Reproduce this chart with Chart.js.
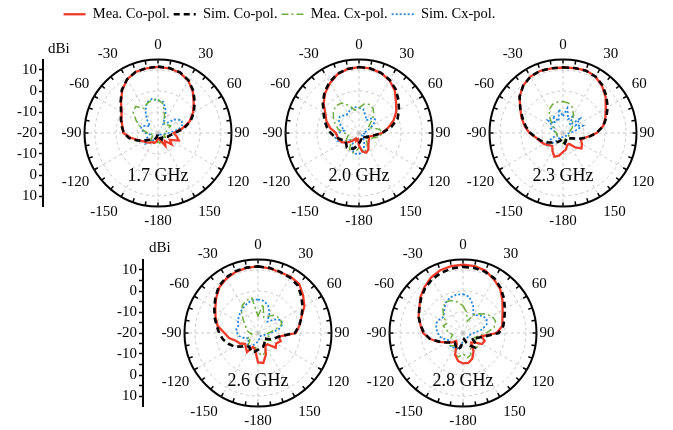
<!DOCTYPE html>
<html>
<head>
<meta charset="utf-8">
<script src="https://cdn.jsdelivr.net/npm/chart.js@4.4.1/dist/chart.umd.min.js"></script>
<style>
  body { margin: 0; background: #fff; }
  #page { position: relative; width: 673px; height: 430px; overflow: hidden; font-family: 'Liberation Serif', serif; color: #000; }
  #top { position: absolute; left: 0; top: 0; width: 673px; height: 225px; overflow: hidden; }
  canvas { position: absolute; }
  .txt { position: absolute; white-space: nowrap; }
  .freq { font-size: 18px; line-height: 20px; width: 120px; text-align: center; }
  .unit { font-size: 15px; line-height: 18px; }
</style>
</head>
<body>
<div id="page">
  <div id="top">
    <canvas id="ax1" width="50" height="190" style="left:0;top:38px"></canvas>
    <canvas id="p17" width="260" height="194" style="left:28px;top:36px"></canvas>
    <canvas id="p20" width="260" height="194" style="left:229px;top:36px"></canvas>
    <canvas id="p23" width="260" height="194" style="left:433px;top:36px"></canvas>
    <div class="txt unit" style="left:48px;top:39px">dBi</div>
    <div class="txt freq" style="left:98px;top:165px">1.7 GHz</div>
    <div class="txt freq" style="left:299px;top:165px">2.0 GHz</div>
    <div class="txt freq" style="left:503px;top:165px">2.3 GHz</div>
  </div>
  <canvas id="leg" width="559" height="36" style="left:0;top:3px"></canvas>
  <canvas id="ax2" width="50" height="190" style="left:100px;top:238px"></canvas>
  <canvas id="p26" width="260" height="194" style="left:128px;top:236px"></canvas>
  <canvas id="p28" width="260" height="194" style="left:333px;top:236px"></canvas>
  <div class="txt unit" style="left:149px;top:238px">dBi</div>
  <div class="txt freq" style="left:198px;top:370px">2.6 GHz</div>
  <div class="txt freq" style="left:403px;top:370px">2.8 GHz</div>
</div>
<script>
// angles in degrees, 0 at top, clockwise
const angles = [0, 10, 20, 30, 40, 50, 60, 70, 80, 90, 100, 110, 120, 130, 140, 150, 160, 170,
  180, 190, 200, 210, 220, 230, 240, 250, 260, 270, 280, 290, 300, 310, 320, 330, 340, 350];

// gain in dBi, one value per angle
const f17MeaCo = [11.5, 11.3, 10.6, 8.8, 5.8, 2.2, -0.8, -4, -8.5, -12.5, -11, -9.5, -13.5, -11.5, -15, -13, -16, -17,
  -17.5, -16, -15, -15, -14, -13, -12, -10, -6.8, -3.5, -2.8, -1.5, 0, 3, 6.5, 9.5, 11, 11.3];
const f17SimCo = [11.6, 11.4, 10.7, 9, 6.2, 2.8, -0.3, -3.5, -7.5, -12, -14, -15, -16.5, -17, -17, -16.5, -17.5, -19,
  -19.5, -19, -17.5, -16.5, -16, -15, -13, -9.5, -6, -3.8, -2.5, -1.2, 0.3, 3.2, 6.8, 9.5, 11, 11.4];
const f17MeaCx = [-4, -6, -11, -14, -15, -14, -13, -15, -16, -17, -16.5, -17, -16, -17, -16, -17, -16, -15,
  -16, -14.5, -15, -14, -15, -16, -17, -16, -17, -15, -13, -11, -8, -4.5, -3.5, -6.5, -5, -4];
const f17SimCx = [-4.5, -5, -9, -15, -14, -10, -7.5, -7.3, -10, -15, -17, -18, -18.5, -19, -19, -18.5, -19, -19,
  -18.5, -18, -17.5, -16.5, -14, -12, -12.5, -15, -16, -14, -12, -11.5, -13, -15, -12, -8, -4.5, -3.5];

const f20MeaCo = [11.4, 11.2, 10.5, 9, 6.5, 3, 0.5, -2.5, -6, -9, -13, -15, -14.5, -14, -13, -11, -10, -11,
  -14, -17, -16, -17, -15, -13, -11, -10, -9.5, -9, -6, -3.5, -1.5, 2, 5, 7.5, 9.8, 11];
const f20SimCo = [11.4, 11.2, 10.5, 9.2, 7.2, 4.5, 2, -0.5, -4.5, -9, -13, -15, -16, -17, -18, -18, -17, -16,
  -15, -13.5, -12, -11.5, -11, -12, -12.5, -11, -8.5, -6.5, -4.5, -2.5, -0.5, 2.5, 5.5, 8, 10, 11];
const f20MeaCx = [-8, -6, -5.5, -6.5, -9, -13, -15, -13, -10, -9, -10, -13, -15, -16, -14, -12, -11, -12,
  -13, -11, -10, -11, -14, -15, -13, -14, -15, -13, -10, -8, -6, -4, -3, -3.5, -6, -9];
const f20SimCx = [-8, -8.5, -11, -13, -11, -10, -12, -15, -17, -18, -17, -16, -17, -18, -17, -15, -13, -11,
  -10, -10, -11, -14, -16, -15, -12, -9, -8.5, -10, -13, -11, -9, -8, -9, -9.5, -8, -7.5];

const f23MeaCo = [11.2, 11.4, 11.8, 11, 9, 6.5, 3.5, 1.5, -0.5, -4, -8.5, -11, -9.5, -8.5, -11, -14, -14, -12,
  -11, -9, -8, -10, -12, -11, -9.5, -8.5, -7, -4, -1.5, 1, 3.5, 7, 9.5, 11, 11.5, 11.3];
const f23SimCo = [11.3, 11.4, 11.6, 11, 9.5, 7, 4.5, 2, -0.5, -4, -8, -12, -15, -16, -17, -17, -16, -15,
  -16, -17, -16, -15, -14, -13, -11, -9, -7, -4.5, -2, 0.5, 3.5, 7, 9.5, 11, 11.5, 11.3];
const f23MeaCx = [-5, -5.5, -7, -10, -13, -14, -15, -16, -17, -17, -17, -17, -17, -17, -17, -17, -17, -16,
  -15, -16, -17, -17, -17, -17, -17, -17, -17, -17, -16, -16, -15, -13, -10, -7, -5.5, -5];
const f23SimCx = [-12, -8, -13, -11, -15, -9.5, -13, -10, -14, -17, -18, -18, -18, -18, -18, -18, -18, -18,
  -18, -18, -18, -18, -15, -10, -11, -16, -17, -17, -16, -14, -15, -11, -14, -10.5, -14, -8.5];

const f26MeaCo = [11.7, 11.3, 10.8, 11, 10.5, 8, 5.5, 2, 0, -2, -10, -8.5, -10, -9, -13, -13, -9, -5.5,
  -6, -12, -13, -9.5, -11, -12, -10, -9, -6, -4, -0.5, 1.5, 3.5, 6, 8.5, 10, 11, 11.5];
const f26SimCo = [11.7, 11.5, 11, 10.5, 9.5, 7, 4.5, 2, 0, -2.5, -10, -12, -14, -16, -15, -14, -13, -13,
  -12, -11, -10.5, -12, -12, -10, -7, -5, -3, -1.5, 0, 2, 4, 6.5, 9, 10.5, 11.3, 11.6];
const f26MeaCx = [-12, -6, -12, -11, -9, -8, -7.5, -8, -12, -15, -16, -14, -13, -15, -15, -13, -10, -9,
  -11, -13, -12, -11, -13, -15, -14, -16, -17, -16, -15, -14, -13, -11, -8, -5, -3.5, -3];
const f26SimCx = [-4, -4.5, -6, -9, -13, -10, -7.5, -7.5, -10, -14, -16, -17, -17.5, -18, -18, -17.5, -17, -17,
  -16, -15, -14, -13, -12, -14, -15, -13, -11, -10, -9.5, -10, -9, -8, -7, -6, -5, -4];

const f28MeaCo = [12.5, 12.3, 11.5, 9.5, 7.5, 4.5, 1.8, 0, -1, -4, -11, -9, -9.5, -13, -14, -10, -7, -5.5,
  -5.5, -6.5, -9, -14, -15, -13, -11, -7.5, -4, -1, 0.5, 2.5, 4, 6.5, 8.5, 10.5, 11.8, 12.3];
const f28SimCo = [11.5, 11.4, 11, 10, 8, 5.5, 3, 1, -0.5, -3, -10, -13, -15, -12, -11, -13, -15, -17,
  -16, -13, -11.5, -13, -14, -13, -11, -8, -4, -1.5, 0.5, 2.5, 4, 6, 8, 9.5, 10.5, 11.2];
const f28MeaCx = [-7, -10, -14, -10, -8, -6, -4, -3.5, -5, -9, -12, -14, -12, -10, -11, -13, -9, -8,
  -10, -8.5, -9, -13, -12, -11, -13, -14, -15, -14, -12, -10, -11, -8, -5, -3, -3.5, -5];
const f28SimCx = [-1.5, -2.5, -6, -10, -9, -7.5, -7, -8, -11, -15, -16, -17, -17, -17, -17, -17, -17, -17,
  -16, -14, -12, -12, -11, -12, -13, -11, -9, -8, -7, -6.5, -7, -8, -6, -3.5, -2, -1.5];

Chart.defaults.font.family = "'Liberation Serif', 'Times New Roman', serif";
Chart.defaults.color = '#000';
Chart.defaults.animation = false;

const seriesStyle = [
  { label: 'Mea. Co-pol.', borderColor: '#f03a2a', borderWidth: 2.3, borderDash: [], order: 1 },
  { label: 'Sim. Co-pol.', borderColor: '#000000', borderWidth: 2.6, borderDash: [6, 4], order: 0 },
  { label: 'Mea. Cx-pol.', borderColor: '#6fad3f', borderWidth: 1.5, borderDash: [7, 3, 2, 3], order: 2 },
  { label: 'Sim. Cx-pol.', borderColor: '#2585dd', borderWidth: 1.8, borderDash: [2, 2], order: 3 }
];

function angleText(v) {
  if (v === 0) return '0';
  if (v >= 180) return String(v - 360);
  return String(v);
}

// small tick marks around the outer circle
const rimTicks = {
  id: 'rimTicks',
  afterDatasetsDraw(chart) {
    const s = chart.scales.r;
    const ctx = chart.ctx;
    ctx.save();
    ctx.strokeStyle = '#000';
    ctx.lineWidth = 1.5;
    for (let i = 0; i < angles.length; i++) {
      const a = s.getPointPosition(i, s.drawingArea);
      const b = s.getPointPosition(i, s.drawingArea - 4);
      ctx.beginPath();
      ctx.moveTo(a.x, a.y);
      ctx.lineTo(b.x, b.y);
      ctx.stroke();
    }
    ctx.restore();
  }
};

function makePolar(id, series) {
  new Chart(document.getElementById(id), {
    type: 'radar',
    data: {
      labels: angles,
      datasets: series.map((d, k) => ({
        label: seriesStyle[k].label,
        data: d,
        borderColor: seriesStyle[k].borderColor,
        borderWidth: seriesStyle[k].borderWidth,
        borderDash: seriesStyle[k].borderDash,
        order: seriesStyle[k].order,
        fill: false,
        pointRadius: 0,
        tension: 0
      }))
    },
    options: {
      responsive: false,
      layout: { padding: 0 },
      plugins: { legend: { display: false }, tooltip: { enabled: false } },
      scales: {
        r: {
          min: -20,
          max: 15,
          beginAtZero: false,
          ticks: { display: false, stepSize: 5 },
          grid: {
            circular: true,
            color: c => c.tick.value === 15 ? '#000' : (c.tick.value % 10 === 0 && c.tick.value > -20 ? '#bdbdbd' : 'rgba(0,0,0,0)'),
            lineWidth: c => c.tick.value === 15 ? 2 : 0.8
          },
          border: { dash: c => (c.tick && c.tick.value === 15) ? [] : [3, 3] },
          angleLines: {
            color: c => c.index % 3 === 0 ? '#bdbdbd' : 'rgba(0,0,0,0)',
            lineWidth: 0.8,
            borderDash: [3, 3]
          },
          pointLabels: {
            font: { size: 15 },
            color: '#000',
            padding: c => {
              const a = angles[c.index];
              if (a % 30 !== 0) return 0;
              if (a === 0 || a === 180) return 5.5;
              if (a === 90 || a === 270) return 3;
              if (a % 60 === 0) return 6;
              return 7;
            },
            callback: (v, i) => (i % 3 === 0 ? angleText(v) : '')
          }
        }
      }
    },
    plugins: [rimTicks]
  });
}

function dbAxis(id) {
  new Chart(document.getElementById(id), {
    type: 'scatter',
    data: { datasets: [] },
    options: {
      responsive: false,
      layout: { padding: { top: 21.5, bottom: 21.5, left: 0, right: 0 } },
      plugins: { legend: { display: false }, tooltip: { enabled: false } },
      scales: {
        x: { display: false },
        y: {
          min: -35,
          max: 35,
          afterFit: s => { s.width = 43; },
          border: { display: true, color: '#000', width: 2 },
          grid: {
            drawOnChartArea: false,
            drawTicks: true,
            tickLength: 4,
            tickWidth: 1.5,
            tickColor: c => Math.abs(c.tick.value) === 35 ? 'rgba(0,0,0,0)' : '#000'
          },
          ticks: {
            stepSize: 5,
            padding: 2,
            autoSkip: false,
            maxRotation: 0,
            font: { size: 15 },
            // distance along the diameter shown as gain, -20 dBi at the centre
            callback: v => (v % 10 === 0 ? String(Math.abs(v) - 20) : '')
          }
        }
      }
    }
  });
}

new Chart(document.getElementById('leg'), {
  type: 'line',
  data: {
    labels: [],
    datasets: seriesStyle.map(s => ({
      label: s.label,
      data: [],
      borderColor: s.borderColor,
      borderWidth: s.borderWidth,
      borderDash: s.borderDash
    }))
  },
  options: {
    responsive: false,
    layout: { padding: 0 },
    scales: { x: { display: false }, y: { display: false } },
    plugins: {
      tooltip: { enabled: false },
      legend: {
        labels: {
          usePointStyle: true,
          pointStyleWidth: 22,
          padding: 4,
          font: { size: 14.5 },
          // take the line look from the dataset, not from its (absent) points
          generateLabels: chart => chart.data.datasets.map((d, i) => ({
            text: d.label,
            fillStyle: 'rgba(0,0,0,0)',
            strokeStyle: d.borderColor,
            lineWidth: d.borderWidth,
            lineDash: d.borderDash,
            pointStyle: 'line',
            fontColor: '#000',
            hidden: false,
            datasetIndex: i
          }))
        }
      }
    }
  }
});

dbAxis('ax1');
dbAxis('ax2');
makePolar('p17', [f17MeaCo, f17SimCo, f17MeaCx, f17SimCx]);
makePolar('p20', [f20MeaCo, f20SimCo, f20MeaCx, f20SimCx]);
makePolar('p23', [f23MeaCo, f23SimCo, f23MeaCx, f23SimCx]);
makePolar('p26', [f26MeaCo, f26SimCo, f26MeaCx, f26SimCx]);
makePolar('p28', [f28MeaCo, f28SimCo, f28MeaCx, f28SimCx]);
</script>
</body>
</html>
